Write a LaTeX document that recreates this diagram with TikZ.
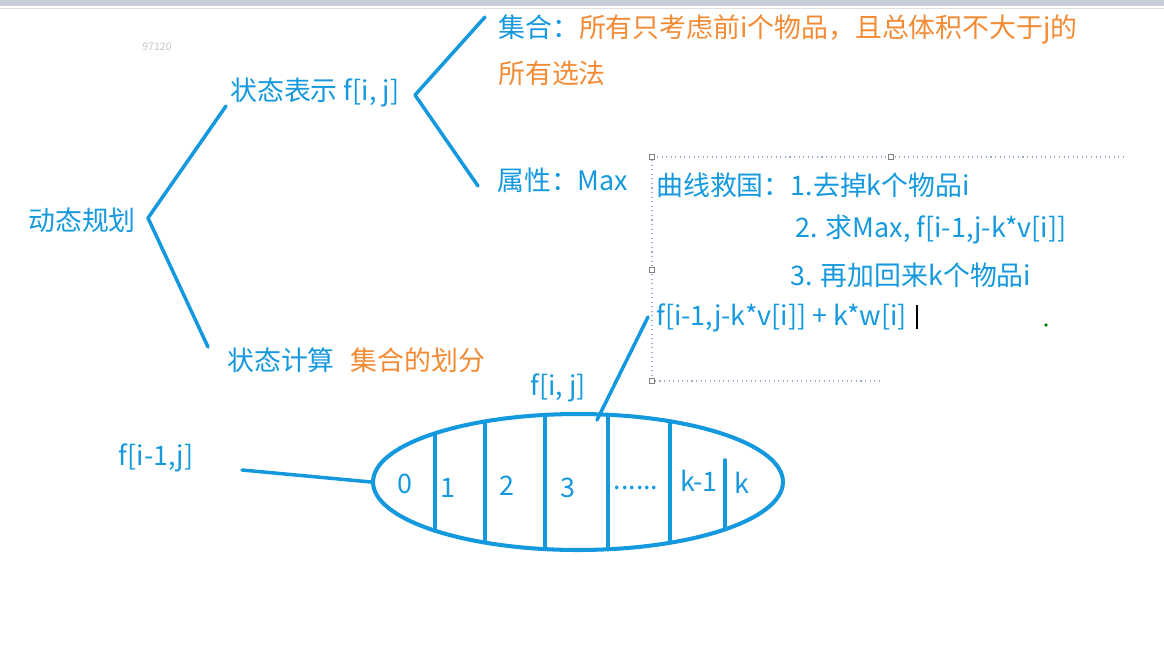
\documentclass[tikz,border=0pt]{standalone}
\usepackage{fontspec}
\setmainfont{Noto Sans CJK SC}
\usetikzlibrary{positioning, shapes.geometric}
\definecolor{penblue}{RGB}{20,152,222}
\definecolor{penorange}{RGB}{243,138,52}
\definecolor{boxgray}{RGB}{150,172,200}
\definecolor{barcol}{RGB}{200,205,218}
\tikzset{
  txt/.style={inner sep=0pt, anchor=west, text=penblue,
              font=\fontsize{15.3}{18}\selectfont},
  otxt/.style={txt, text=penorange},
  cell/.style={inner sep=0pt, text=penblue, font=\fontsize{15.3}{18}\selectfont},
  pen/.style={draw=penblue, line width=2pt, line cap=round, line join=round},
  handle/.style={draw=gray, fill=white, minimum size=3pt, inner sep=0pt,
                 line width=0.3pt},
}
\begin{document}
\begin{tikzpicture}[x=0.02cm, y=-0.02cm]
  \useasboundingbox (0,0) rectangle (1164,664);
  % window bar
  \fill[barcol] (0,0) rectangle (1164,6);
  \draw[gray!25, line width=0.6pt] (0,8.5) -- (1164,8.5);
  \node[inner sep=0pt, text=gray!45, font=\fontsize{6}{7}\selectfont] (mark) at (157,47) {97120};

  % tree labels
  \node[txt] (dp) at (28,220) {动态规划};
  \node[txt] (rep) at (230,92) {状态表示 f[i, j]};
  \node[txt] (calc) at (227,360) {状态计算};
  \node[otxt, right=0.3cm of calc] (part) {集合的划分};
  \node[txt] (set) at (498,29) {集合：\textcolor{penorange}{所有只考虑前i个物品，且总体积不大于j的}};
  \node[otxt] (set2) at (498,73) {所有选法};
  \node[txt] (attr) at (497,180) {属性：Max};

  % brackets
  \coordinate (r1) at (226,106);
  \coordinate (b1) at (148,218);
  \coordinate (r2) at (208,347);
  \draw[pen] (r1) -- (b1) -- (r2);
  \coordinate (s1) at (485,17);
  \coordinate (b2) at (415,95);
  \coordinate (s2) at (478,186);
  \draw[pen] (s1) -- (b2) -- (s2);

  % text box
  \draw[boxgray, dotted, line width=0.6pt] (1124,157) -- (652,157) -- (652,381) -- (882,381);
  \foreach \p [count=\i] in {(652,157),(891,157),(652,270),(652,381)}
    \node[handle] (h\i) at \p {};
  \node[txt] (l1) at (656,185) {曲线救国：1.去掉k个物品i};
  \node[txt] (l2) at (795,229) {2. 求Max, f[i-1,j-k*v[i]]};
  \node[txt] (l3) at (790,275) {3. 再加回来k个物品i};
  \node[txt] (l4) at (656,318) {f[i-1,j-k*v[i]] + k*w[i]};
  \draw[black, line width=0.6pt] (917,305) -- (917,329);
  \fill[green!50!black] (1046,325) circle (1.1pt);

  % split set
  \node[ellipse, draw=penblue, line width=2.3pt, minimum width=8.2cm,
        minimum height=2.72cm, inner sep=0pt] (ell) at (578,482) {};
  \begin{scope}
    \clip (ell.center) ellipse [x radius=4.1cm, y radius=1.36cm];
    \foreach \xx in {435,485,545,608,670}
      \draw[pen] (\xx,400) -- (\xx,560);
    \draw[pen] (725,460) -- (725,560);
  \end{scope}
  \foreach \xx/\yy/\t [count=\i] in {405/484/0, 448/488/1, 507/486/2, 568/488/3,
                                    636/488/{......}, 699/481/k-1, 742/483/k}
    \node[cell] (c\i) at (\xx,\yy) {\t};

  \node[inner sep=0pt, text=penblue, font=\fontsize{15.3}{18}\selectfont] (prev) at (156,458) {f[i-1,j]};
  \node[inner sep=0pt, text=penblue, font=\fontsize{15.3}{18}\selectfont] (cur) at (558,388) {f[i, j]};
  \coordinate (pa) at (242,470);
  \draw[pen] (pa) -- (ell.west);
  \coordinate (pb) at (597,420);
  \coordinate (pc) at (648,317);
  \draw[pen] (pb) -- (pc);
\end{tikzpicture}
\end{document}
